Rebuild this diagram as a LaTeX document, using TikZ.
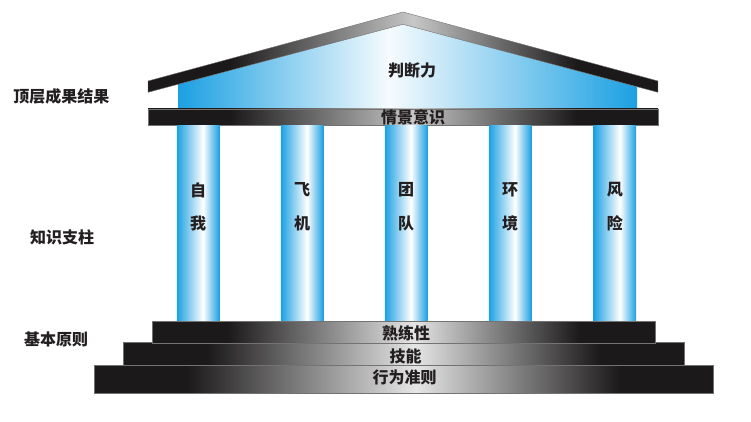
\documentclass[tikz,border=0pt]{standalone}
\usepackage{fontspec}
\newfontfamily\cjk{Noto Sans CJK SC}
\definecolor{pillarblue}{RGB}{28,160,226}
\definecolor{nearblack}{RGB}{27,25,26}
\definecolor{ink}{RGB}{35,31,32}
\pgfdeclarehorizontalshading{pillarshade}{100bp}{color(0bp)=(pillarblue); color(25bp)=(pillarblue); color(56bp)=(white); color(75bp)=(pillarblue); color(100bp)=(pillarblue)}
\pgfdeclarehorizontalshading{roofshade}{100bp}{color(0bp)=(pillarblue); color(25bp)=(pillarblue); color(48bp)=(white!96!pillarblue); color(75bp)=(pillarblue); color(100bp)=(pillarblue)}
\pgfdeclarehorizontalshading{beamshade}{100bp}{color(0bp)=(nearblack); color(33bp)=(nearblack); color(51bp)=(white!78!black); color(67bp)=(nearblack); color(100bp)=(nearblack)}
\pgfdeclarehorizontalshading{stepshade}{100bp}{color(0bp)=(nearblack); color(32.5bp)=(nearblack); color(51bp)=(white!90!black); color(67.5bp)=(nearblack); color(100bp)=(nearblack)}

\begin{document}
\begin{tikzpicture}[x=1pt, y=-1pt]
\tikzstyle{word}=[font=\cjk\bfseries\fontsize{16}{18}\selectfont, text=ink, inner sep=0pt]
\tikzstyle{pillar}=[rectangle, shade, shading=pillarshade, minimum width=42.5pt, minimum height=196pt, inner sep=0pt]
\tikzstyle{beam}=[shade, shading=beamshade, draw=black!55, line width=0.4pt]
\tikzstyle{tread}=[rectangle, shade, shading=stepshade, draw=black!55, line width=0.5pt, inner sep=0pt]
    \useasboundingbox (0,0) rectangle (751,421);
    % roof
    \path[shade, shading=roofshade] (178,109) -- (178,84.3) -- (403,24.3) -- (637,86.7) -- (637,109) -- cycle;
    \path[beam] (148,81) -- (403,12) -- (658,81) -- (658,92.3) -- (403,24.3) -- (148,92.3) -- cycle;
    \node[word] (R) at (412,70) {判断力};
    \node[beam, rectangle, minimum width=510pt, minimum height=16.6pt, inner sep=0pt] (E) at (403,117) { };
    \node[word] (Et) at (413,117) {情景意识};
    % pillars
    \node[pillar] (P1) at (198,223) { };
    \node[pillar] (P2) at (302,223) { };
    \node[pillar] (P3) at (406,223) { };
    \node[pillar] (P4) at (510,223) { };
    \node[pillar] (P5) at (614.8,223) { };
    \node[word] (P1a) at ([yshift=33pt]P1.center) {自};
    \node[word] (P1b) at (P1.center) {我};
    \node[word] (P2a) at ([yshift=33pt]P2.center) {飞};
    \node[word] (P2b) at (P2.center) {机};
    \node[word] (P3a) at ([yshift=33pt]P3.center) {团};
    \node[word] (P3b) at (P3.center) {队};
    \node[word] (P4a) at ([yshift=33pt]P4.center) {环};
    \node[word] (P4b) at (P4.center) {境};
    \node[word] (P5a) at ([yshift=33pt]P5.center) {风};
    \node[word] (P5b) at (P5.center) {险};
    % steps
    \node[tread, minimum width=619pt, minimum height=28pt] (S3) at (403.5,379.3) { };
    \node[tread, minimum width=561pt, minimum height=22.6pt] (S2) at (403.5,354) { };
    \node[tread, minimum width=503pt, minimum height=21.7pt] (S1) at (403.5,332) { };
    \node[word] (S1t) at (406,333) {熟练性};
    \node[word] (S2t) at (405.5,356) {技能};
    \node[word] (S3t) at (404.5,377.5) {行为准则};
    % side labels
    \node[word] (L1) at (61.4,96) {顶层成果结果};
    \node[word] (L2) at (62,237) {知识支柱};
    \node[word] (L3) at (56,339) {基本原则};
\end{tikzpicture}
\end{document}
